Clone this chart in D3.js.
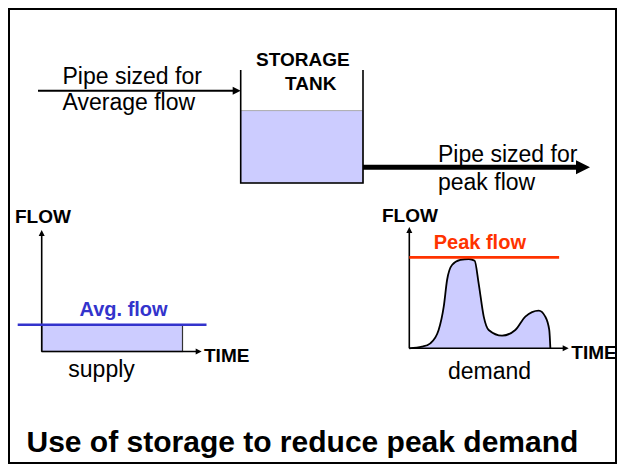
<!DOCTYPE html>
<html>
<head>
<meta charset="utf-8">
<script src="https://cdn.jsdelivr.net/npm/d3@7"></script>
<style>
  html, body { margin: 0; padding: 0; background: #fff; }
  svg { display: block; font-family: Arial, "Liberation Sans", sans-serif; }
</style>
</head>
<body>
<div id="chart"></div>
<script>
// ---- data ----
const title = "Use of storage to reduce peak demand";
const tankLabel = ["STORAGE", "TANK"];
const inletLabel = ["Pipe sized for", "Average flow"];
const outletLabel = ["Pipe sized for", "peak flow"];
const tankLevel = 64;            // % full
const avgFlow = 22;              // supply graph, flow units
const supplyTime = [0, 88];      // supply period (time units)
const avgLineTime = [-15, 103];
const peakFlow = 75;
const peakLineTime = [0, 94];
const demandTime = [0, 8, 13.2, 18.4, 21.6, 23.7, 26.8, 32, 37.3, 41, 43.5, 46.7, 49.8, 58.2, 66.5, 72.8, 81.2, 85.3, 87.8, 88.5];
const demandFlow = [0, 1.3, 4.1, 15.1, 34.3, 56.3, 68.7, 72.8, 73.6, 72.2, 53.6, 26.1, 15.1, 10.4, 15.1, 26.1, 31.0, 26.1, 15.1, 0];
const axisLabels = { flow: "FLOW", time: "TIME" };
const graphLabels = { supply: "supply", demand: "demand", avg: "Avg. flow", peak: "Peak flow" };

const W = 624, H = 464;
const svg = d3.select("#chart").append("svg").attr("width", W).attr("height", H);

// frame
svg.append("rect").attr("x", 9).attr("y", 9).attr("width", 607).attr("height", 454)
  .attr("fill", "none").attr("stroke", "#000").attr("stroke-width", 2);

function arrowHead(g, x, y, dir, len, half) {
  let pts;
  if (dir === "right") pts = [[x, y], [x - len, y - half], [x - len, y + half]];
  else pts = [[x, y], [x - half, y + len], [x + half, y + len]];
  g.append("path").attr("d", "M" + pts.map(p => p.join(",")).join("L") + "Z").attr("fill", "#000");
}

// ---- tank ----
const tankX = d3.scaleLinear().domain([0, 1]).range([240.7, 363]);
const tankY = d3.scaleLinear().domain([0, 100]).range([183, 70]);
const tank = svg.append("g");
tank.append("rect").attr("x", tankX(0)).attr("y", tankY(tankLevel))
  .attr("width", tankX(1) - tankX(0)).attr("height", tankY(0) - tankY(tankLevel))
  .attr("fill", "#ccccff").attr("stroke", "#999").attr("stroke-width", 0.8);
tank.append("path")
  .attr("d", `M${tankX(0)},${tankY(100)}V${tankY(0)}H${tankX(1)}V${tankY(100)}`)
  .attr("fill", "none").attr("stroke", "#000").attr("stroke-width", 1.6);
tank.selectAll("text.tl").data(tankLabel).join("text")
  .attr("x", (d, i) => i === 0 ? 256 : 285).attr("y", (d, i) => i === 0 ? 66 : 89.5)
  .attr("font-size", 19).attr("font-weight", "bold").attr("fill", "#000").text(d => d);

// inlet pipe
const pipes = svg.append("g");
pipes.append("line").attr("x1", 38).attr("x2", 234).attr("y1", 90.7).attr("y2", 90.7)
  .attr("stroke", "#000").attr("stroke-width", 2);
arrowHead(pipes, tankX(0), 90.7, "right", 8, 4);
pipes.selectAll("text.in").data(inletLabel).join("text")
  .attr("x", 62.5).attr("y", (d, i) => i === 0 ? 84 : 109.5)
  .attr("font-size", 23).attr("fill", "#000").text(d => d);

// outlet pipe
pipes.append("line").attr("x1", tankX(1)).attr("x2", 578).attr("y1", 167.3).attr("y2", 167.3)
  .attr("stroke", "#000").attr("stroke-width", 5);
arrowHead(pipes, 590, 167.3, "right", 14, 7);
pipes.selectAll("text.out").data(outletLabel).join("text")
  .attr("x", 438).attr("y", (d, i) => i === 0 ? 161.5 : 189.5)
  .attr("font-size", 23).attr("fill", "#000").text(d => d);

// ---- supply graph ----
const sx = d3.scaleLinear().domain([0, 100]).range([41.7, 201.7]);
const sy = d3.scaleLinear().domain([0, 100]).range([351.5, 230]);
const sg = svg.append("g");
sg.append("rect").attr("x", sx(supplyTime[0])).attr("y", sy(avgFlow))
  .attr("width", sx(supplyTime[1]) - sx(supplyTime[0])).attr("height", sy(0) - sy(avgFlow))
  .attr("fill", "#ccccff").attr("stroke", "#333").attr("stroke-width", 1.2);
sg.append("line").attr("x1", sx(0)).attr("x2", sx(0)).attr("y1", sy(0)).attr("y2", sy(100) + 5)
  .attr("stroke", "#000").attr("stroke-width", 1.6);
arrowHead(sg, sx(0), sy(100), "up", 6, 3);
sg.append("line").attr("x1", sx(0)).attr("x2", sx(100) - 5).attr("y1", sy(0)).attr("y2", sy(0))
  .attr("stroke", "#000").attr("stroke-width", 1.6);
arrowHead(sg, sx(100), sy(0), "right", 6, 3);
sg.append("line").attr("x1", sx(avgLineTime[0])).attr("x2", sx(avgLineTime[1]))
  .attr("y1", sy(avgFlow)).attr("y2", sy(avgFlow))
  .attr("stroke", "#3333cc").attr("stroke-width", 2.5);
sg.append("text").attr("x", 79.5).attr("y", 315.5).attr("font-size", 20).attr("font-weight", "bold")
  .attr("fill", "#3333cc").text(graphLabels.avg);
sg.append("text").attr("x", 15).attr("y", 223).attr("font-size", 19).attr("font-weight", "bold")
  .attr("fill", "#000").text(axisLabels.flow);
sg.append("text").attr("x", 204).attr("y", 361.5).attr("font-size", 19).attr("font-weight", "bold")
  .attr("fill", "#000").text(axisLabels.time);
sg.append("text").attr("x", 68.3).attr("y", 377).attr("font-size", 23)
  .attr("fill", "#000").text(graphLabels.supply);

// ---- demand graph ----
const dx = d3.scaleLinear().domain([0, 100]).range([409.3, 568.7]);
const dy = d3.scaleLinear().domain([0, 100]).range([348.3, 227]);
const dg = svg.append("g");
const pts = demandTime.map((t, i) => [t, demandFlow[i]]);
dg.append("path").datum(pts)
  .attr("d", d3.area().x(d => dx(d[0])).y0(dy(0)).y1(d => dy(d[1])).curve(d3.curveMonotoneX))
  .attr("fill", "#ccccff");
dg.append("path").datum(pts)
  .attr("d", d3.line().x(d => dx(d[0])).y(d => dy(d[1])).curve(d3.curveMonotoneX))
  .attr("fill", "none").attr("stroke", "#000").attr("stroke-width", 1.8);
dg.append("line").attr("x1", dx(0)).attr("x2", dx(0)).attr("y1", dy(0)).attr("y2", dy(100) + 5)
  .attr("stroke", "#000").attr("stroke-width", 1.6);
arrowHead(dg, dx(0), dy(100), "up", 6, 3);
dg.append("line").attr("x1", dx(0)).attr("x2", dx(100) - 5).attr("y1", dy(0)).attr("y2", dy(0))
  .attr("stroke", "#000").attr("stroke-width", 1.6);
arrowHead(dg, dx(100), dy(0), "right", 6, 3);
dg.append("line").attr("x1", dx(peakLineTime[0])).attr("x2", dx(peakLineTime[1]))
  .attr("y1", dy(peakFlow)).attr("y2", dy(peakFlow))
  .attr("stroke", "#ff3300").attr("stroke-width", 2.8);
dg.append("text").attr("x", 433.7).attr("y", 249).attr("font-size", 20).attr("font-weight", "bold")
  .attr("fill", "#ff3300").text(graphLabels.peak);
dg.append("text").attr("x", 382).attr("y", 222).attr("font-size", 19).attr("font-weight", "bold")
  .attr("fill", "#000").text(axisLabels.flow);
dg.append("text").attr("x", 571.3).attr("y", 358.5).attr("font-size", 19).attr("font-weight", "bold")
  .attr("fill", "#000").text(axisLabels.time);
dg.append("text").attr("x", 448).attr("y", 379).attr("font-size", 23)
  .attr("fill", "#000").text(graphLabels.demand);

// right frame edge drawn over the clipped TIME label
svg.append("line").attr("x1", 616).attr("x2", 616).attr("y1", 8).attr("y2", 464)
  .attr("stroke", "#000").attr("stroke-width", 2);

// ---- title ----
svg.append("text").attr("x", 26.5).attr("y", 452).attr("font-size", 30).attr("font-weight", "bold")
  .attr("fill", "#000").text(title);
</script>
</body>
</html>
